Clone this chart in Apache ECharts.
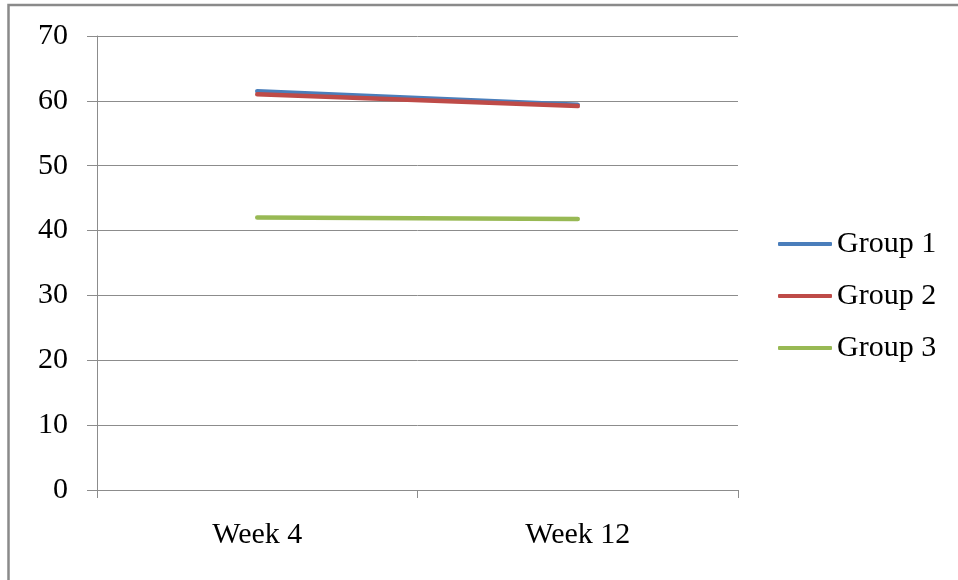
<!DOCTYPE html>
<html>
<head>
<meta charset="utf-8">
<script src="https://cdn.jsdelivr.net/npm/echarts@6/dist/echarts.min.js"></script>
<style>
  html, body { margin: 0; padding: 0; background: #fff; }
  #chart { width: 958px; height: 580px; }
</style>
</head>
<body>
<div id="chart"></div>
<script>
// Categories and series values
const categories = ['Week 4', 'Week 12'];
const group1 = [61.5, 59.4];
const group2 = [61.0, 59.2];
const group3 = [42.0, 41.8];
const seriesNames = ['Group 1', 'Group 2', 'Group 3'];
const seriesColors = ['#4A7EBB', '#BE4B48', '#98B954'];

const serif = '"Liberation Serif", "Times New Roman", serif';
const axisGray = '#8c8c8c';

const chart = echarts.init(document.getElementById('chart'));

function lineSeries(name, data, color) {
  return {
    name: name,
    type: 'line',
    data: data,
    showSymbol: false,
    symbol: 'none',
    color: color,
    lineStyle: { width: 4.5, color: color, cap: 'round' },
    emphasis: { disabled: true },
    animation: false
  };
}

chart.setOption({
  animation: false,
  backgroundColor: '#ffffff',
  graphic: [{
    type: 'rect',
    shape: { x: 8.5, y: 5, width: 1200, height: 1200 },
    style: { fill: 'none', stroke: '#8a8a8a', lineWidth: 2.5 },
    silent: true
  }],
  grid: { left: 97, right: 220, top: 36, bottom: 90, containLabel: false },
  legend: {
    orient: 'vertical',
    left: 773,
    top: 224,
    icon: 'roundRect',
    itemWidth: 54,
    itemHeight: 4,
    itemGap: 22,
    selectedMode: false,
    textStyle: { fontFamily: serif, fontSize: 30, color: '#000', lineHeight: 30, padding: [0, 0, 0, 0] },
    data: seriesNames
  },
  xAxis: {
    type: 'category',
    data: categories,
    boundaryGap: true,
    axisLine: { show: true, lineStyle: { color: axisGray, width: 1 } },
    axisTick: { show: true, length: 8, lineStyle: { color: axisGray } },
    axisLabel: { fontFamily: serif, fontSize: 30, color: '#000', margin: 30 },
    splitLine: { show: false }
  },
  yAxis: {
    type: 'value',
    min: 0,
    max: 70,
    interval: 10,
    axisLine: { show: true, lineStyle: { color: axisGray, width: 1 } },
    axisTick: { show: true, length: 10, lineStyle: { color: axisGray } },
    axisLabel: { fontFamily: serif, fontSize: 30, color: '#000', margin: 29 },
    splitLine: { show: true, lineStyle: { color: axisGray, width: 1 } }
  },
  series: [
    lineSeries(seriesNames[0], group1, seriesColors[0]),
    lineSeries(seriesNames[1], group2, seriesColors[1]),
    lineSeries(seriesNames[2], group3, seriesColors[2])
  ]
});
</script>
</body>
</html>
